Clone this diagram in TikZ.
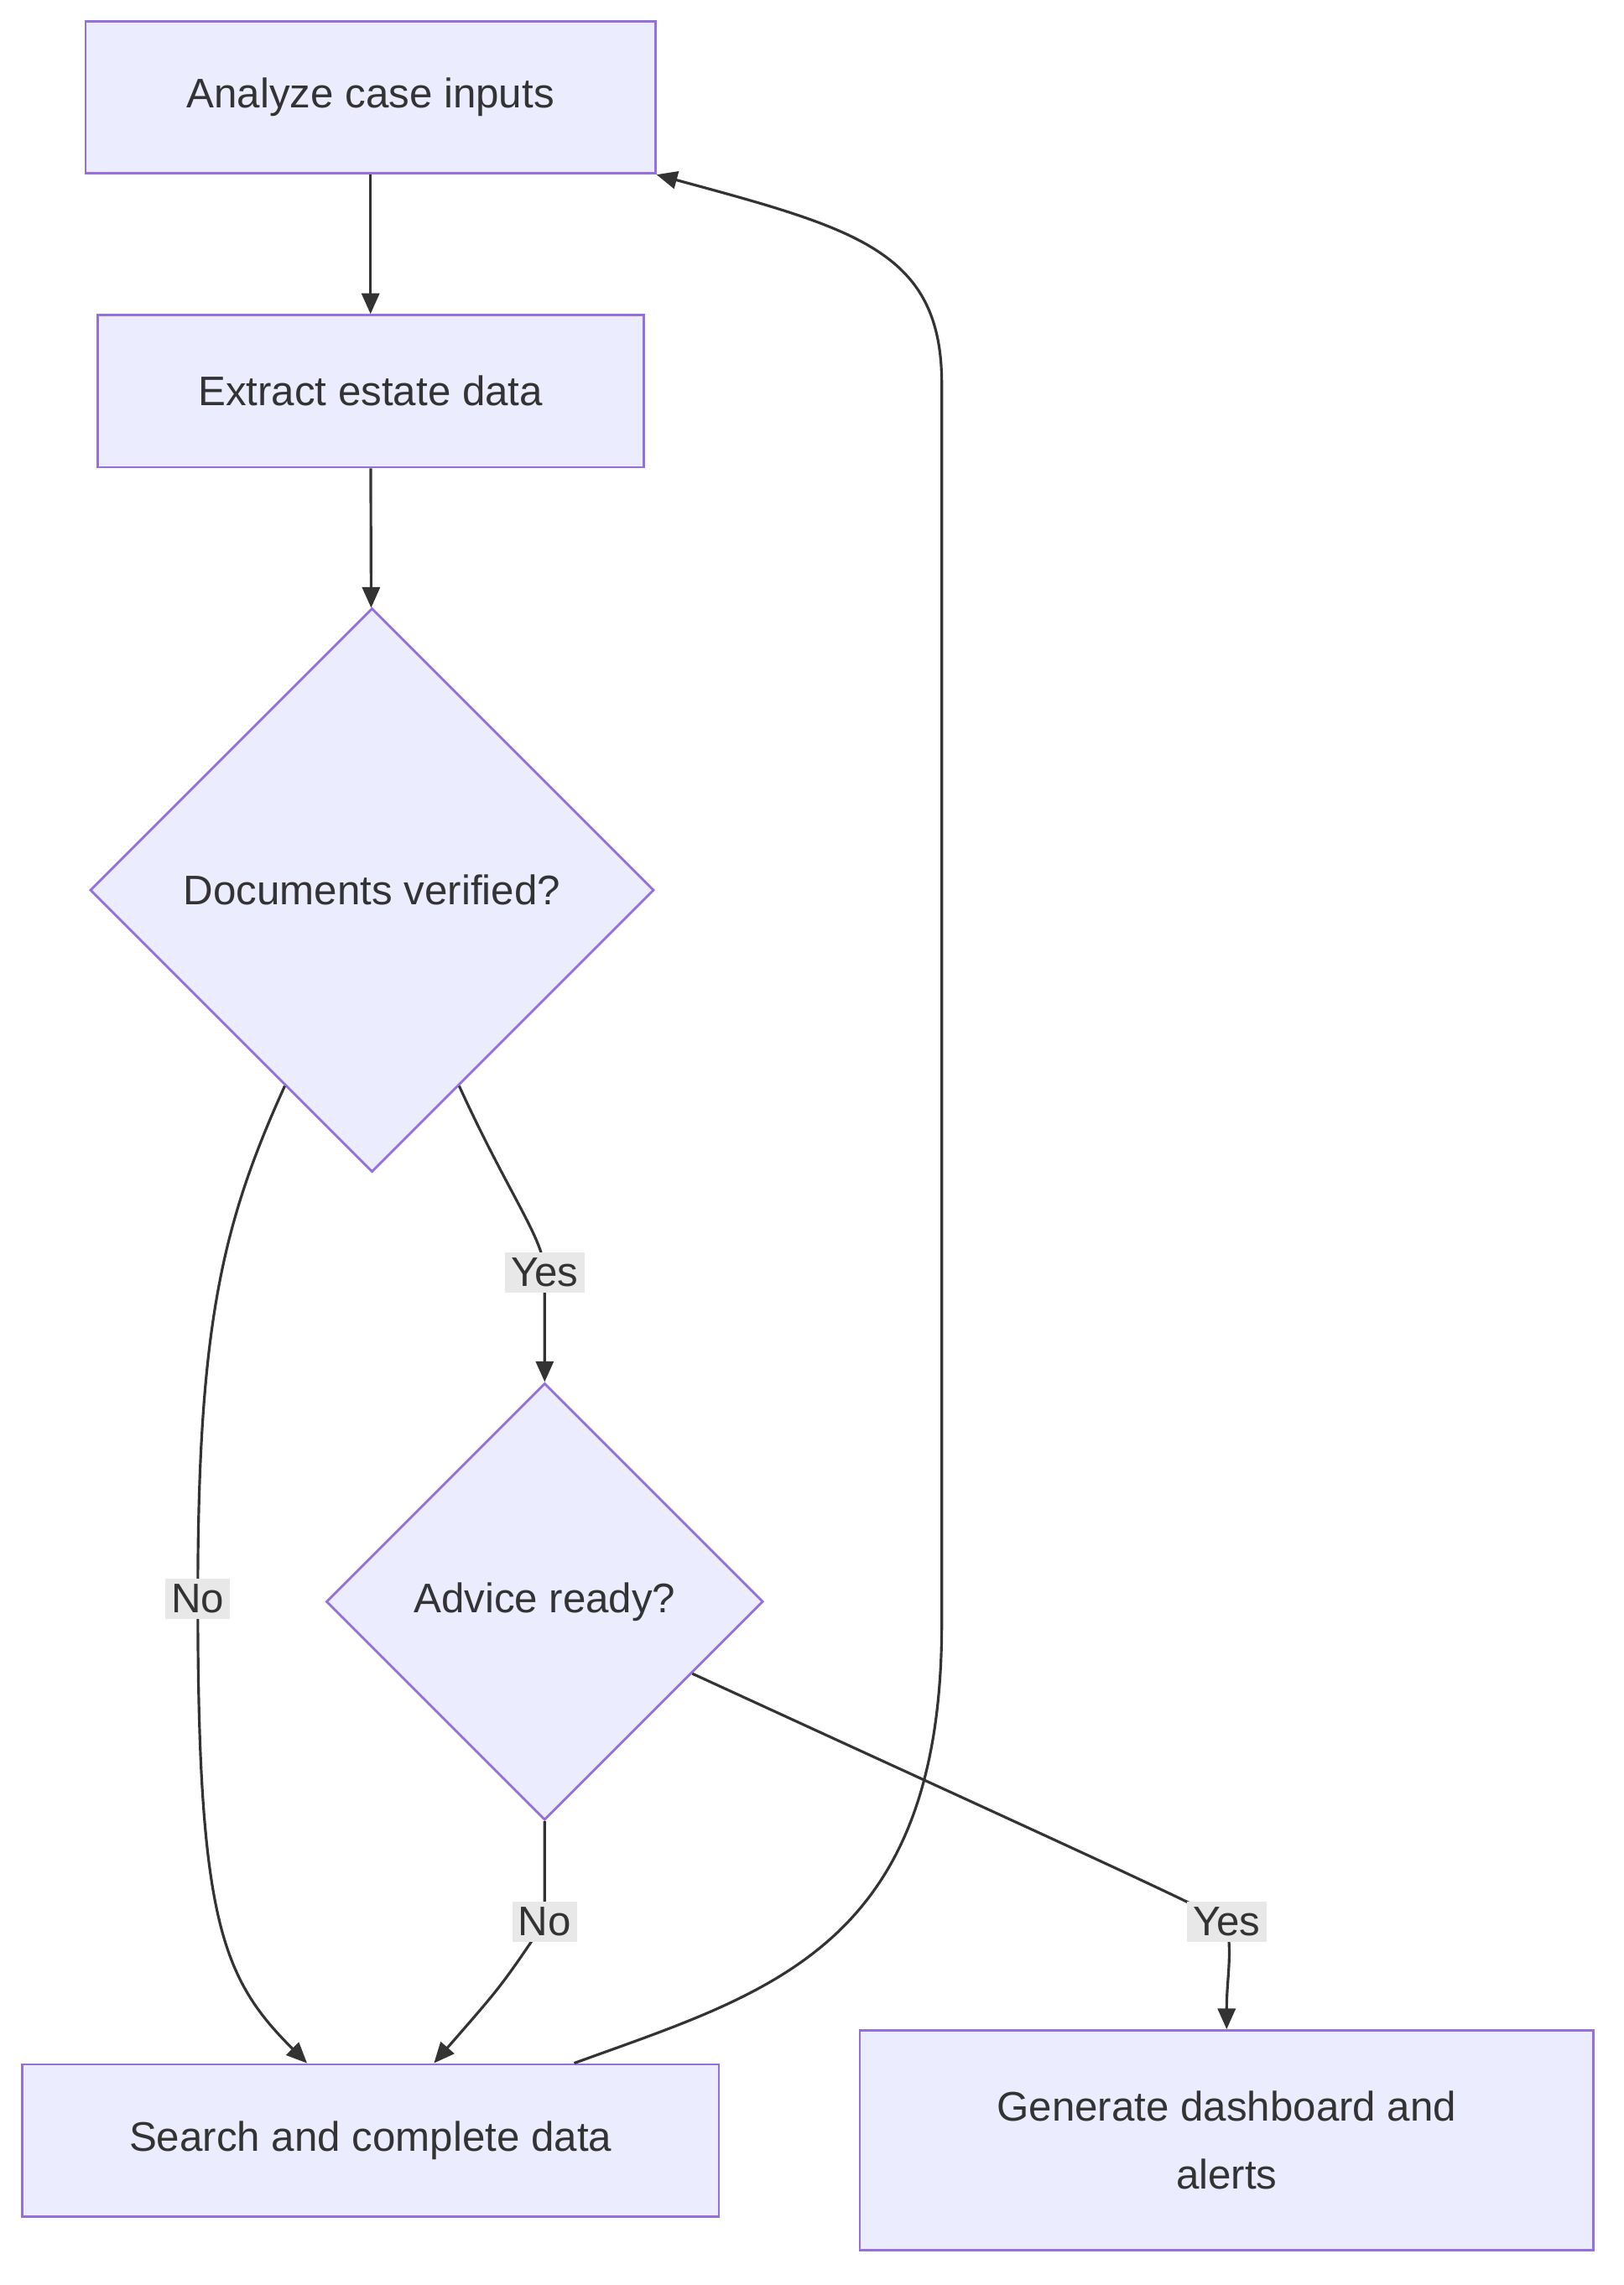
\documentclass[tikz,border=0pt]{standalone}
\usepackage{fontspec}
\setmainfont{Liberation Sans}
\usetikzlibrary{shapes.geometric,arrows.meta}
\definecolor{nfill}{HTML}{ECECFF}
\definecolor{nline}{HTML}{9370DB}
\definecolor{ink}{HTML}{333333}
\definecolor{lbl}{HTML}{E8E8E8}
\begin{document}
\begin{tikzpicture}[x=0.5pt,y=-0.5pt,
  every node/.style={font=\fontsize{14pt}{23pt}\selectfont,text=ink},
  box/.style={draw=nline,fill=nfill,line width=0.8pt,inner sep=0pt,align=center},
  dia/.style={diamond,draw=nline,fill=nfill,line width=0.8pt,inner sep=0pt,aspect=1},
  elbl/.style={fill=lbl,inner sep=2pt},
  arr/.style={draw=ink,line width=0.9pt,-{Triangle[length=7pt,width=6pt]}}]
\fill[white] (0,0) rectangle (1100,1548);
\node[box,minimum width=193pt,minimum height=51.5pt] (A) at (251,66) {Analyze case inputs};
\node[box,minimum width=185pt,minimum height=51.5pt] (B) at (251,265) {Extract estate data};
\node[dia,minimum width=191pt,minimum height=191pt] (C) at (252,603) {};
\node at (C) {Documents verified?};
\node[dia,minimum width=148pt,minimum height=148pt] (D) at (369,1085) {};
\node at (D) {Advice ready?};
\node[box,minimum width=236pt,minimum height=51.5pt] (E) at (251,1450) {Search and complete data};
\node[box,minimum width=248.5pt,minimum height=74.5pt] (F) at (831,1450) {Generate dashboard and\\alerts};
\coordinate (y1) at (369,862);
\coordinate (n1) at (134,1083);
\coordinate (n2) at (369,1302);
\coordinate (y2) at (831,1302);
\draw[arr] (A) -- (B);
\draw[arr] (B) -- (C);
\draw[arr] (C.-66) .. controls (345,810) and (369,840) .. (y1) .. controls (369,885) and (369,905) .. (D.north);
\draw[arr] (C.-114) .. controls (150,830) and (134,900) .. (n1) .. controls (134,1300) and (150,1340) .. ([xshift=-21.5pt]E.north);
\draw[arr] (D.south) -- (369,1255) .. controls (369,1285) and (369,1290) .. (n2) .. controls (340,1345) .. ([xshift=21.5pt]E.north);
\draw[arr] (D.-26) .. controls (700,1240) and (800,1285) .. (y2) .. controls (835,1325) and (831,1340) .. (F.north);
\draw[arr] ([xshift=69pt]E.north) .. controls (520,1350) and (638,1320) .. (638,1100) -- (638,260) .. controls (638,170) and (580,155) .. (A.south east);
\node[elbl] (Y1) at (y1) {Yes};
\node[elbl] (N1) at (n1) {No};
\node[elbl] (N2) at (n2) {No};
\node[elbl] (Y2) at (y2) {Yes};
\end{tikzpicture}
\end{document}
